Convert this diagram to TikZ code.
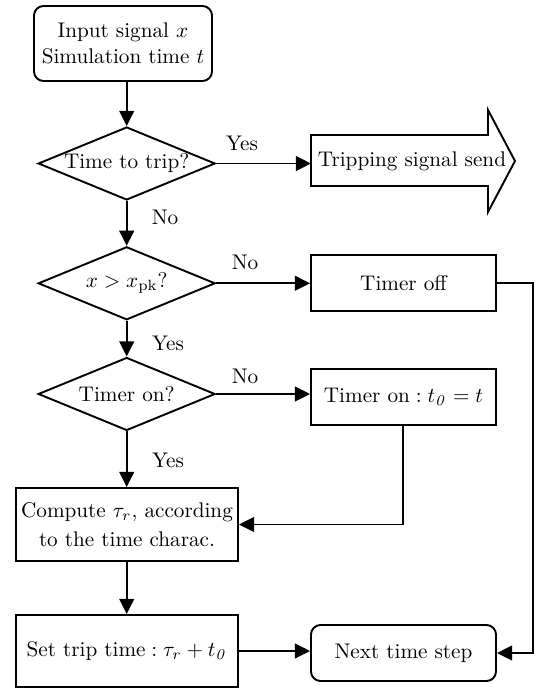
\documentclass[tikz,border=0pt]{standalone}
\usetikzlibrary{shapes.geometric,arrows.meta}
\newcommand\pxs{0.472pt}
\begin{document}
\begin{tikzpicture}[x=0.472pt,y=-0.472pt,
  line width=0.9pt,
  arr/.style={-{Triangle[length=7.2pt,width=7pt]}},
  roundbox/.style={draw,rounded corners=4.5pt,align=center,inner sep=0pt},
  sqbox/.style={draw,align=center,inner sep=0pt},
  dec/.style={draw,diamond,aspect=2.4,inner sep=0pt,minimum width=177*\pxs,minimum height=73*\pxs},
  lbl/.style={inner sep=0pt}]
\useasboundingbox (0,0) rectangle (536,689);
\node[roundbox,minimum width=178*\pxs,minimum height=75*\pxs] (start) at (123,43.5) {Input signal $x$\\Simulation time $t$};
\node[dec] (d1) at (126.7,163.5) {Time to trip?};
\node[dec] (d2) at (126.7,283.3) {$x>x_{\mathrm{pk}}$?};
\node[dec] (d3) at (126.7,394) {Timer on?};
\node[sqbox,minimum width=222*\pxs,minimum height=73*\pxs] (comp) at (127,524.5) {Compute $\tau_r,$ according\\[2pt]to the time charac.};
\node[sqbox,minimum width=222*\pxs,minimum height=72*\pxs] (set) at (127,651) {Set trip time$\;: \tau_r+t_{\mathit{0}}$};
\node[sqbox,minimum width=185*\pxs,minimum height=56*\pxs] (toff) at (403.5,283) {Timer off};
\node[sqbox,minimum width=185*\pxs,minimum height=56*\pxs] (ton) at (403.5,397) {Timer on$\;: t_{\mathit{0}}=t$};
\node[roundbox,minimum width=185*\pxs,minimum height=56*\pxs] (next) at (403.5,653) {Next time step};
% tripping signal arrow
\node[lbl] (trip) at (412,161) {Tripping signal send};
\coordinate (tripw) at (311,161);
\draw (311,135) -- (488,135) -- (488,110) -- (515,161) -- (488,212) -- (488,186) -- (311,186) -- cycle;
% connectors
\draw[arr] (start.south -| d1.north) -- (d1.north);
\draw[arr] (d1.south) -- (d2.north);
\draw[arr] (d2.south) -- (d3.north);
\draw[arr] (d3.south) -- (comp.north -| d3.south);
\draw[arr] (comp.south -| d3.south) -- (set.north -| d3.south);
\draw[arr] (d1.east) -- (tripw |- d1.east);
\draw[arr] (d2.east) -- (toff.west |- d2.east);
\draw[arr] (d3.east) -- (ton.west |- d3.east);
\draw[arr] (set.east) -- (next.west |- set.east);
\coordinate (c1) at (403,524.5);
\draw[arr] (ton.south -| c1) -- (c1) -- (comp.east |- c1);
\coordinate (c2) at (533,283);
\draw[arr] (toff.east) -- (c2) -- (c2 |- next.east) -- (next.east);
% labels
\node[lbl] (y1) at (242,143) {Yes};
\node[lbl] (n1) at (165,217) {No};
\node[lbl] (n2) at (245,262) {No};
\node[lbl] (y2) at (168,343) {Yes};
\node[lbl] (n3) at (245,376) {No};
\node[lbl] (y3) at (168,460) {Yes};
\end{tikzpicture}
\end{document}
